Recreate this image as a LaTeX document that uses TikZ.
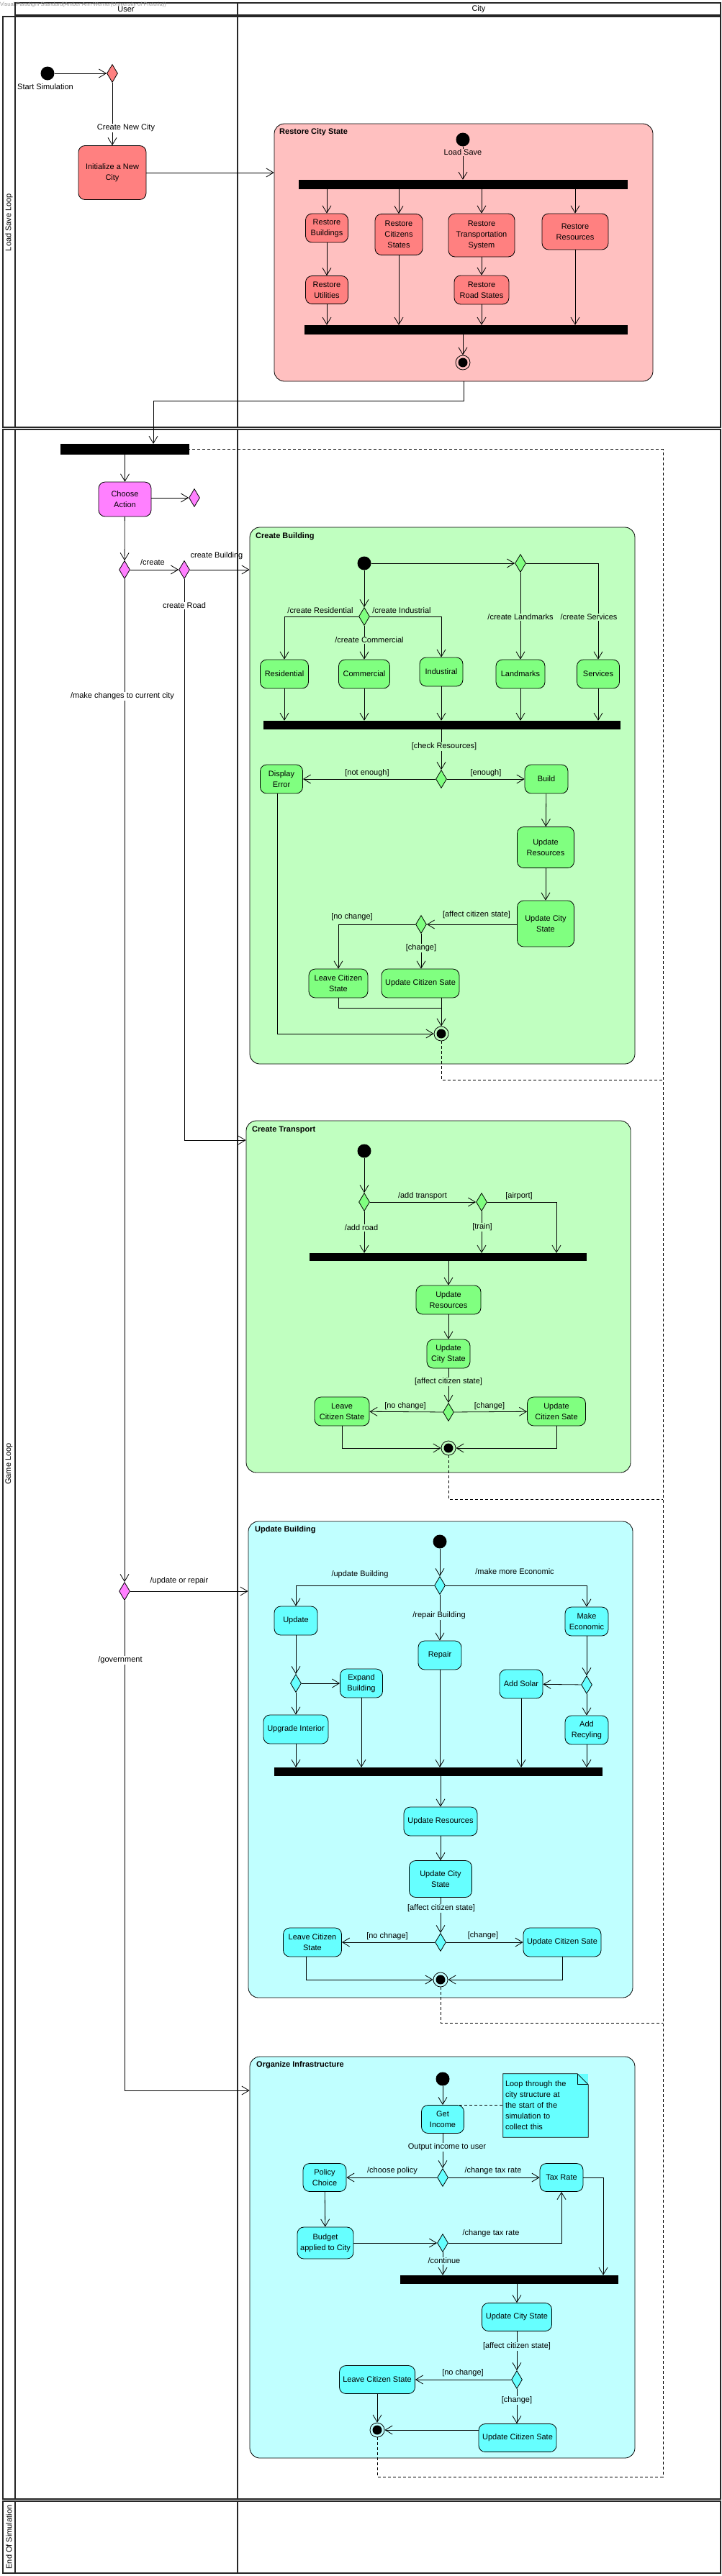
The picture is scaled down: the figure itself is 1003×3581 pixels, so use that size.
\documentclass[tikz,border=0pt]{standalone}
\usepackage{fontspec}
\setmainfont{Liberation Sans}
\usetikzlibrary{arrows.meta,shapes.geometric,calc}
\definecolor{redA}{HTML}{FF8080}
\definecolor{redB}{HTML}{FFC0C0}
\definecolor{greenA}{HTML}{80FF80}
\definecolor{greenB}{HTML}{C0FFC0}
\definecolor{cyanA}{HTML}{66FFFF}
\definecolor{cyanB}{HTML}{C0FFFF}
\definecolor{magA}{HTML}{FF80FF}
\tikzset{
  lane/.style={draw=black!85, line width=1.3pt},
  act/.style={draw, rounded corners=9pt, align=center, inner sep=2pt, line width=0.8pt},
  ra/.style={act, fill=redA},
  ga/.style={act, fill=greenA},
  ca/.style={act, fill=cyanA},
  ma/.style={act, fill=magA},
  cont/.style={draw, rounded corners=14pt, line width=0.8pt, inner sep=0pt},
  ttl/.style={font=\fontsize{11}{13}\selectfont\bfseries, anchor=west, inner sep=0pt},
  initn/.style={circle, fill=black, minimum size=19pt, inner sep=0pt},
  finn/.style={circle, draw, line width=0.8pt, minimum size=20pt, inner sep=0pt, path picture={\fill[black] (path picture bounding box.center) circle (6.5pt);}},
  dia/.style={diamond, draw, line width=0.8pt, minimum width=15pt, minimum height=25pt, inner sep=0pt},
  bar/.style={fill=black, inner sep=0pt},
  arr/.style={-{Straight Barb[length=10pt,width=12pt]}, line width=0.8pt},
  ln/.style={line width=0.8pt},
  dsh/.style={line width=0.8pt, dash pattern=on 4pt off 3pt},
  lbl/.style={inner sep=1pt},
}
\begin{document}
\begin{tikzpicture}[x=1pt,y=-1pt,font=\fontsize{11}{15}\selectfont]
\useasboundingbox (0,0) rectangle (1003,3581);
\fill[white] (0,0) rectangle (1003,3581);

% ---------------- lanes ----------------
\draw[lane] (21,4) rectangle (330,21);
\draw[lane] (330,4) rectangle (1001,21);
\draw[lane] (4,23) rectangle (1001,594);
\draw[lane] (4,597) rectangle (1001,3474);
\draw[lane] (4,3477) rectangle (1001,3577);
\draw[lane] (21,23) -- (21,594) (21,597) -- (21,3474) (21,3477) -- (21,3577);
\draw[lane] (330,23) -- (330,594) (330,597) -- (330,3474) (330,3477) -- (330,3577);
\node (hUser) at (175,13) {User};
\node (hCity) at (665,13) {City};
\node[rotate=90] (rLoad) at (12.5,309) {Load Save Loop};
\node[rotate=90] (rGame) at (12.5,2035) {Game Loop};
\node[rotate=90] (rEnd) at (12.5,3527) {End Of Simulation};
\node[anchor=west, inner sep=0pt, text=black!40, font=\fontsize{7.5}{9}\selectfont] (wm) at (0,7) {Visual Paradigm Standard(Amber Ann Werner(University of Pretoria))};

% ---------------- containers ----------------
\node[cont, fill=redB, minimum width=526pt, minimum height=358pt] (restore) at (644,351) {};
\node[cont, fill=greenB, minimum width=535pt, minimum height=746pt] (cb) at (614.5,1106) {};
\node[cont, fill=greenB, minimum width=534pt, minimum height=489pt] (ct) at (609,1802.5) {};
\node[cont, fill=cyanB, minimum width=534pt, minimum height=662pt] (ub) at (612,2446) {};
\node[cont, fill=cyanB, minimum width=535pt, minimum height=558pt] (oi) at (614.5,3138) {};
\node[ttl] (tRestore) at (388,184) {Restore City State};
\node[ttl] (tCB) at (355,746) {Create Building};
\node[ttl] (tCT) at (350,1571) {Create Transport};
\node[ttl] (tUB) at (354,2127) {Update Building};
\node[ttl] (tOI) at (356,2871) {Organize Infrastructure};

% ---------------- load save loop ----------------
\node[initn] (start) at (66,102) {};
\node[dia, fill=redA] (d0) at (156,102) {};
\node[ra, minimum width=94pt, minimum height=75pt] (init) at (156,240) {Initialize a New\\City};
\draw[arr] (start) -- (d0);
\draw[arr] (d0) -- (init);
\draw[arr] (init.east) -- (init.east -| restore.west);
\node[lbl] (lStart) at (63,121) {Start Simulation};
\node[lbl, fill=white] (lNew) at (175,178) {Create New City};

\node[initn] (ls) at (643,194) {};
\node[bar, minimum width=457pt, minimum height=13pt] (fork1) at (643.5,256.5) {};
\node[ra, minimum width=59pt, minimum height=40pt] (rb) at (454,317) {Restore\\Buildings};
\node[ra, minimum width=66pt, minimum height=57pt] (rc) at (554,326) {Restore\\Citizens\\States};
\node[ra, minimum width=92pt, minimum height=60pt] (rt) at (669,327) {Restore\\Transportation\\System};
\node[ra, minimum width=92pt, minimum height=50pt] (rr) at (799,322) {Restore\\Resources};
\node[ra, minimum width=59pt, minimum height=39pt] (ru) at (454,403) {Restore\\Utilities};
\node[ra, minimum width=76pt, minimum height=40pt] (rs) at (669,403) {Restore\\Road States};
\node[bar, minimum width=449pt, minimum height=13pt] (join1) at (647.5,458.5) {};
\node[finn] (fin1) at (643,504) {};
\draw[arr] (ls) -- (ls |- fork1.north);
\foreach \n in {rb,rc,rt,rr} \draw[arr] (\n.north |- fork1.south) -- (\n.north);
\draw[arr] (rb) -- (ru);
\draw[arr] (rt) -- (rs);
\foreach \n in {ru,rc,rs,rr} \draw[arr] (\n.south) -- (\n.south |- join1.north);
\draw[arr] (fin1 |- join1.south) -- (fin1);
\node[lbl, fill=redB] (lLoad) at (643,212) {Load Save};

\coordinate (c1) at (213,557);
\draw[arr] (restore.south) |- (c1) -- (c1 |- 0,617);

% ---------------- game loop (user lane) ----------------
\node[bar, minimum width=179pt, minimum height=15pt] (gfork) at (173.5,624.5) {};
\node[ma, minimum width=73pt, minimum height=48pt] (choose) at (173.5,694) {Choose\\Action};
\node[dia, fill=magA] (dch) at (270,692) {};
\node[dia, fill=magA] (d1) at (173,792) {};
\node[dia, fill=magA] (d2) at (256,792) {};
\node[dia, fill=magA] (d3) at (173,2212) {};
\draw[arr] (choose.north |- gfork.south) -- (choose.north);
\draw[arr] (choose.east |- dch) -- (dch);
\draw[arr] (choose) -- (d1);
\draw[arr] (d1) -- (d2);
\draw[arr] (d2) -- (d2 -| cb.west);
\coordinate (c2) at (256,1585);
\draw[arr] (d2) -- (c2) -- (c2 -| ct.west);
\draw[arr] (d1) -- (d3);
\draw[arr] (d3) -- (d3 -| ub.west);
\coordinate (c3) at (173,2906);
\draw[arr] (d3) -- (c3) -- (c3 -| oi.west);
\node[lbl] (lCreate) at (212,782) {/create};
\node[lbl] (lCB) at (301,773) {create Building};
\node[lbl, fill=white] (lCR) at (256,842) {create Road};
\node[lbl, fill=white] (lMake) at (170,968) {/make changes to current city};
\node[lbl] (lUpd) at (249,2198) {/update or repair};
\node[lbl, fill=white] (lGov) at (167,2308) {/government};

% ---------------- Create Building ----------------
\node[initn] (cbi) at (506,783) {};
\node[dia, fill=greenA] (cbd1) at (723,783) {};
\node[dia, fill=greenA] (cbd2) at (506,857) {};
\node[ga, minimum width=67pt, minimum height=40pt] (res) at (395,937) {Residential};
\node[ga, minimum width=71pt, minimum height=40pt] (com) at (506,937) {Commercial};
\node[ga, minimum width=60pt, minimum height=40pt] (ind) at (613,934) {Industiral};
\node[ga, minimum width=68pt, minimum height=40pt] (lan) at (723,937) {Landmarks};
\node[ga, minimum width=59pt, minimum height=40pt] (ser) at (831,937) {Services};
\node[bar, minimum width=496pt, minimum height=12pt] (cbbar) at (614,1008) {};
\node[dia, fill=greenA] (cbd3) at (613,1083) {};
\node[ga, minimum width=59pt, minimum height=40pt] (derr) at (391,1083) {Display\\Error};
\node[ga, minimum width=60pt, minimum height=40pt] (build) at (759,1083) {Build};
\node[ga, minimum width=79pt, minimum height=57pt] (ures) at (758,1178) {Update\\Resources};
\node[ga, minimum width=79pt, minimum height=64pt] (ucs) at (758,1284) {Update City\\State};
\node[dia, fill=greenA] (cbd4) at (585,1285) {};
\node[ga, minimum width=82pt, minimum height=40pt] (lcs) at (470,1367) {Leave Citizen\\State};
\node[ga, minimum width=108pt, minimum height=40pt] (ucz) at (584,1367) {Update Citizen Sate};
\node[finn] (cbf) at (613,1437) {};
\draw[arr] (cbi) -- (cbd1);
\draw[arr] (cbi) -- (cbd2);
\draw[arr] (cbd2.west) -| (res.north);
\draw[arr] (cbd2.east) -| (ind.north);
\draw[arr] (cbd2) -- (com);
\draw[arr] (cbd1.east) -| (ser.north);
\draw[arr] (cbd1) -- (lan);
\foreach \n in {res,com,ind,lan,ser} \draw[arr] (\n.south) -- (\n.south |- cbbar.north);
\draw[arr] (cbd3 |- cbbar.south) -- (cbd3);
\draw[arr] (cbd3) -- (derr);
\draw[arr] (cbd3) -- (build);
\draw[arr] (build) -- (ures);
\draw[arr] (ures) -- (ucs);
\draw[arr] (ucs.west |- cbd4) -- (cbd4);
\draw[arr] (cbd4.west) -| (lcs.north);
\draw[arr] (cbd4) -- (cbd4 |- ucz.north);
\coordinate (m1) at (613,1401);
\draw[ln] (lcs.south) |- (m1);
\draw[arr] (ucz.south -| cbf) -- (cbf);
\draw[arr] ([xshift=-6pt]derr.south) |- (cbf.west);
\node[lbl] (l1) at (445,849) {/create Residential};
\node[lbl] (l2) at (558,849) {/create Industrial};
\node[lbl, fill=greenB] (l3) at (513,890) {/create Commercial};
\node[lbl, fill=greenB] (l4) at (723,858) {/create Landmarks};
\node[lbl, fill=greenB] (l5) at (818,858) {/create Services};
\node[lbl, fill=greenB] (l6) at (617,1038) {[check Resources]};
\node[lbl] (l7) at (510,1075) {[not enough]};
\node[lbl] (l8) at (675,1075) {[enough]};
\node[lbl] (l9) at (662,1272) {[affect citizen state]};
\node[lbl] (l10) at (489,1275) {[no change]};
\node[lbl, fill=greenB] (l11) at (585,1318) {[change]};

% ---------------- Create Transport ----------------
\node[initn] (cti) at (506,1600) {};
\node[dia, fill=greenA] (ctd1) at (506,1671) {};
\node[dia, fill=greenA] (ctd2) at (669,1671) {};
\node[bar, minimum width=385pt, minimum height=11pt] (ctbar) at (622.5,1747.5) {};
\node[ga, minimum width=90pt, minimum height=40pt] (ctur) at (623,1807) {Update\\Resources};
\node[ga, minimum width=60pt, minimum height=40pt] (ctucs) at (623,1882) {Update\\City State};
\node[dia, fill=greenA] (ctd3) at (623,1963) {};
\node[ga, minimum width=76pt, minimum height=40pt] (ctl) at (475,1962) {Leave\\Citizen State};
\node[ga, minimum width=81pt, minimum height=40pt] (ctu) at (773,1962) {Update\\Citizen Sate};
\node[finn] (ctf) at (623,2013) {};
\draw[arr] (cti) -- (ctd1);
\draw[arr] (ctd1) -- (ctd2);
\coordinate (c4) at (773,1671);
\draw[arr] (ctd2.east) -- (c4) -- (c4 |- ctbar.north);
\draw[arr] (ctd2) -- (ctd2 |- ctbar.north);
\draw[arr] (ctd1) -- (ctd1 |- ctbar.north);
\draw[arr] (ctur.north |- ctbar.south) -- (ctur.north);
\draw[arr] (ctur) -- (ctucs);
\draw[arr] (ctucs) -- (ctd3);
\draw[arr] (ctd3) -- (ctl);
\draw[arr] (ctd3) -- (ctu);
\draw[arr] (ctl.south) |- (ctf.west);
\draw[arr] (ctu.south) |- (ctf.east);
\node[lbl] (l12) at (587,1663) {/add transport};
\node[lbl] (l13) at (721,1663) {[airport]};
\node[lbl, fill=greenB] (l14) at (670,1706) {[train]};
\node[lbl, fill=greenB] (l15) at (502,1707) {/add road};
\node[lbl, fill=greenB] (l16) at (623,1921) {[affect citizen state]};
\node[lbl] (l17) at (563,1955) {[no change]};
\node[lbl] (l18) at (680,1955) {[change]};

% ---------------- Update Building ----------------
\node[initn] (ubi) at (611,2143) {};
\node[dia, fill=cyanA] (ubd1) at (611,2204) {};
\node[ca, minimum width=60pt, minimum height=40pt] (upd) at (411,2253) {Update};
\node[ca, minimum width=60pt, minimum height=40pt] (rep) at (611,2301) {Repair};
\node[ca, minimum width=60pt, minimum height=40pt] (mke) at (815,2254) {Make\\Economic};
\node[dia, fill=cyanA] (ubd2) at (411,2340) {};
\node[ca, minimum width=59pt, minimum height=40pt] (exb) at (502,2340) {Expand\\Building};
\node[ca, minimum width=90pt, minimum height=40pt] (upi) at (411,2404) {Upgrade Interior};
\node[dia, fill=cyanA] (ubd3) at (815,2342) {};
\node[ca, minimum width=60pt, minimum height=40pt] (ads) at (724,2341) {Add Solar};
\node[ca, minimum width=60pt, minimum height=40pt] (adr) at (815,2405) {Add\\Recyling};
\node[bar, minimum width=456pt, minimum height=12pt] (ubbar) at (609,2463) {};
\node[ca, minimum width=102pt, minimum height=40pt] (ubur) at (612,2532) {Update Resources};
\node[ca, minimum width=87pt, minimum height=51pt] (ubucs) at (612,2612) {Update City\\State};
\node[dia, fill=cyanA] (ubd4) at (612,2700) {};
\node[ca, minimum width=81pt, minimum height=40pt] (ubl) at (434,2700) {Leave Citizen\\State};
\node[ca, minimum width=108pt, minimum height=40pt] (ubu) at (781,2700) {Update Citizen Sate};
\node[finn] (ubf) at (612,2752) {};
\draw[arr] (ubi) -- (ubd1);
\draw[arr] (ubd1.west) -| (upd.north);
\draw[arr] (ubd1.east) -| (mke.north);
\draw[arr] (ubd1) -- (rep);
\draw[arr] (upd) -- (ubd2);
\draw[arr] (ubd2) -- (exb);
\draw[arr] (ubd2) -- (upi);
\draw[arr] (mke) -- (ubd3);
\draw[arr] (ubd3) -- (ads);
\draw[arr] (ubd3) -- (adr);
\foreach \n in {upi,exb,rep,ads,adr} \draw[arr] (\n.south) -- (\n.south |- ubbar.north);
\draw[arr] (ubur.north |- ubbar.south) -- (ubur.north);
\draw[arr] (ubur) -- (ubucs);
\draw[arr] (ubucs) -- (ubd4);
\draw[arr] (ubd4) -- (ubl);
\draw[arr] (ubd4) -- (ubu);
\draw[arr] ([xshift=-9pt]ubl.south) |- (ubf.west);
\draw[arr] (ubu.south) |- (ubf.east);
\node[lbl] (l19) at (500,2189) {/update Building};
\node[lbl] (l20) at (715,2185) {/make more Economic};
\node[lbl, fill=cyanB] (l21) at (610,2246) {/repair Building};
\node[lbl, fill=cyanB] (l22) at (613,2653) {[affect citizen state]};
\node[lbl] (l23) at (538,2692) {[no chnage]};
\node[lbl] (l24) at (671,2691) {[change]};

% ---------------- Organize Infrastructure ----------------
\node[initn] (oii) at (615,2890) {};
\node[ca, minimum width=59pt, minimum height=39pt] (gin) at (615,2946) {Get\\Income};
\node[align=left, text width=112pt, inner sep=3pt, minimum height=88pt, fill=cyanA] (note) at (758,2927) {Loop through the\\city structure at\\the start of the\\simulation to\\collect this};
\draw[ln] (note.north west) -- ([xshift=-15pt]note.north east) -- ([yshift=-15pt]note.north east) -- (note.south east) -- (note.south west) -- cycle;
\draw[ln] ([xshift=-15pt]note.north east) -- ([xshift=-15pt,yshift=-15pt]note.north east) -- ([yshift=-15pt]note.north east);
\draw[dsh] ([xshift=-7pt]gin.north east) -- (gin.north east -| note.west);
\node[dia, fill=cyanA] (oid1) at (615,3027) {};
\node[ca, minimum width=60pt, minimum height=39pt] (pol) at (451,3027) {Policy\\Choice};
\node[ca, minimum width=60pt, minimum height=39pt] (tax) at (780,3027) {Tax Rate};
\node[ca, minimum width=78pt, minimum height=44pt] (bud) at (452,3118) {Budget\\applied to City};
\node[dia, fill=cyanA] (oid2) at (615,3118) {};
\node[bar, minimum width=303pt, minimum height=12pt] (oibar) at (707.5,3169) {};
\node[ca, minimum width=97pt, minimum height=39pt] (oucs) at (718,3221) {Update City State};
\node[dia, fill=cyanA] (oid3) at (718,3308) {};
\node[ca, minimum width=105pt, minimum height=39pt] (oil) at (524,3308) {Leave Citizen State};
\node[ca, minimum width=108pt, minimum height=39pt] (oiu) at (719,3389) {Update Citizen Sate};
\node[finn] (oif) at (524,3378) {};
\draw[arr] (oii) -- (gin);
\draw[arr] (gin) -- (oid1);
\draw[arr] (oid1) -- (pol);
\draw[arr] (oid1) -- (tax);
\draw[arr] (pol) -- (bud);
\draw[arr] (bud.east |- oid2) -- (oid2);
\draw[arr] (oid2.east) -| (tax.south);
\draw[arr] (oid2) -- (oid2 |- oibar.north);
\coordinate (c5) at (838,3027);
\draw[arr] (tax.east) -- (c5) -- (c5 |- oibar.north);
\draw[arr] (oucs.north |- oibar.south) -- (oucs.north);
\draw[arr] (oucs) -- (oid3);
\draw[arr] (oid3) -- (oil);
\draw[arr] (oid3) -- (oid3 |- oiu.north);
\draw[arr] (oil) -- (oif);
\draw[arr] (oiu.west |- oif) -- (oif);
\node[lbl, fill=cyanB] (l25) at (621,2985) {Output income to user};
\node[lbl] (l26) at (545,3018) {/choose policy};
\node[lbl] (l27) at (685,3018) {/change tax rate};
\node[lbl] (l28) at (682,3105) {/change tax rate};
\node[lbl, fill=cyanB] (l29) at (617,3143) {/continue};
\node[lbl, fill=cyanB] (l30) at (718,3262) {[affect citizen state]};
\node[lbl] (l31) at (643,3299) {[no change]};
\node[lbl, fill=cyanB] (l32) at (718,3337) {[change]};

% ---------------- dashed loop back ----------------
\coordinate (q0) at (921,624.5);
\coordinate (q1) at (921,1501);
\coordinate (q2) at (921,2084);
\coordinate (q3) at (921,2812);
\coordinate (q4) at (921,3443);
\draw[dsh] (cbf) -- (cbf |- q1) -- (q1);
\draw[dsh] (ctf) -- (ctf |- q2) -- (q2);
\draw[dsh] (ubf) -- (ubf |- q3) -- (q3);
\draw[dsh] (oif) -- (oif |- q4) -- (q4) -- (q0) -- (gfork.east);
\end{tikzpicture}
\end{document}
